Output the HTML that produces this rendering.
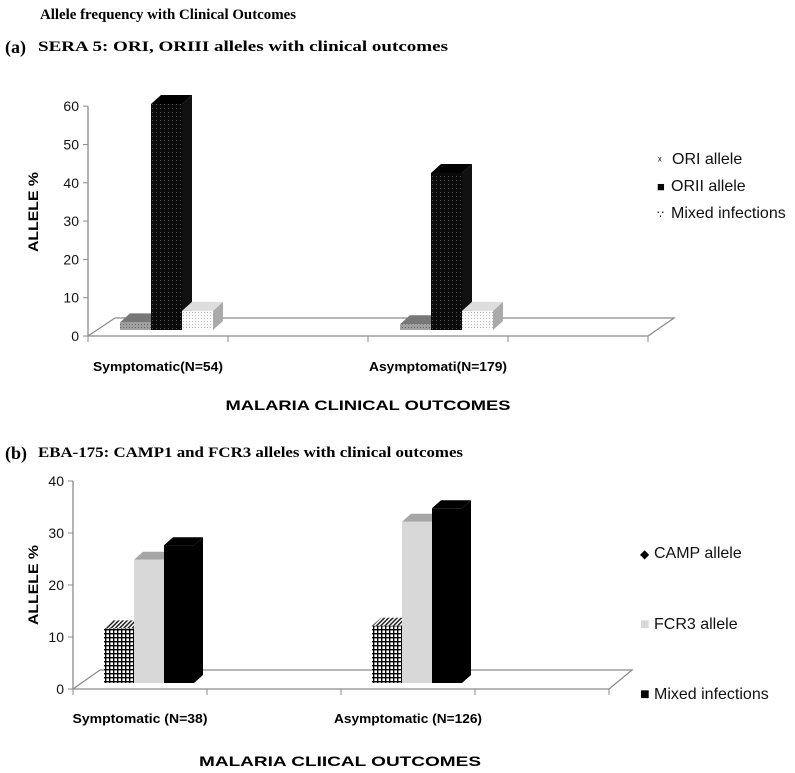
<!DOCTYPE html>
<html><head><meta charset="utf-8"><style>
body{margin:0;background:#fff;}
svg{display:block;font-family:"Liberation Sans",sans-serif;}
.serif{font-family:"Liberation Serif",serif;font-weight:bold;}
</style></head><body>
<svg id="chart" width="795" height="773" viewBox="0 0 795 773">
<defs>
<pattern id="pGrey" width="3" height="3" patternUnits="userSpaceOnUse"><rect width="3" height="3" fill="#a0a0a0"/><rect width="1" height="1" fill="#666"/></pattern>
<pattern id="pBlack" width="4" height="4" patternUnits="userSpaceOnUse"><rect width="4" height="4" fill="#0a0a0a"/><rect width="1" height="1" fill="#555"/></pattern>
<pattern id="pWhite" width="3" height="3" patternUnits="userSpaceOnUse"><rect width="3" height="3" fill="#fafafa"/><rect width="1" height="1" fill="#bbb"/></pattern>
<pattern id="pCheck" width="4" height="4" patternUnits="userSpaceOnUse"><rect width="4" height="4" fill="#fff"/><rect x="0" y="1" width="4" height="1.4" fill="#000"/><rect x="1" y="0" width="1.4" height="4" fill="#000"/></pattern>
<pattern id="pStripe" width="3" height="3" patternUnits="userSpaceOnUse" patternTransform="rotate(45)"><rect width="3" height="3" fill="#fff"/><rect width="1.5" height="3" fill="#222"/></pattern>
</defs>
<text class="serif" x="40" y="19" font-size="15" textLength="256" lengthAdjust="spacingAndGlyphs">Allele frequency with Clinical Outcomes</text>
<text class="serif" x="5" y="53" font-size="18">(a)</text>
<text class="serif" x="38" y="51" font-size="15" textLength="410" lengthAdjust="spacingAndGlyphs">SERA 5: ORI, ORIII alleles with clinical outcomes</text>
<text class="serif" x="5" y="459" font-size="18">(b)</text>
<text class="serif" x="38" y="457" font-size="15" textLength="425" lengthAdjust="spacingAndGlyphs">EBA-175: CAMP1 and FCR3 alleles with clinical outcomes</text>
<g id="ga"></g><g id="gb"></g>
</svg>
<script>
const catsA = ["Symptomatic(N=54)", "Asymptomati(N=179)"];
const oriA = [2, 1.5];
const oriiA = [59, 41];
const mixedA = [5, 5];
const ticksA = [0, 10, 20, 30, 40, 50, 60];
const catsB = ["Symptomatic (N=38)", "Asymptomatic (N=126)"];
const campB = [10.5, 11];
const fcr3B = [23.7, 31];
const mixedB = [26.5, 33.6];
const ticksB = [0, 10, 20, 30, 40];
const NS = "http://www.w3.org/2000/svg";
function mk(parent, tag, attrs, text){
  const e = document.createElementNS(NS, tag);
  for (const k in attrs) e.setAttribute(k, attrs[k]);
  if (text !== undefined) e.textContent = text;
  parent.appendChild(e); return e;
}
function drawChart(g, cfg){
  const y = v => cfg.y0 - v * cfg.pxPer;
  const ax = mk(g, "line", {x1:cfg.x0, y1:y(cfg.ticks[cfg.ticks.length-1]), x2:cfg.x0, y2:cfg.y0, stroke:"#8c8c8c", "stroke-width":1.3});
  
  
  cfg.ticks.forEach(t => {
    mk(g, "line", {x1:cfg.x0-5, y1:y(t), x2:cfg.x0, y2:y(t), stroke:"#8c8c8c"});
    const tl = mk(g, "text", {x:cfg.x0-9, y:y(t)+5, "text-anchor":"end", "font-size":14, fill:"#111"}, String(t));
    
    
  });
  const f = cfg.floor;
  const fl = mk(g, "polygon", {points:`${cfg.x0},${cfg.y0} ${cfg.x0+f.dx},${f.back} ${f.right+f.rdx},${f.back} ${f.right},${cfg.y0}`, fill:"none", stroke:"#8c8c8c", "stroke-width":1.3});
  
  
  const n = cfg.cats.length * 2;
  const step = (f.right - cfg.x0) / n;
  for (let i = 0; i <= n; i++) mk(g, "line", {x1:cfg.x0+i*step, y1:cfg.y0, x2:cfg.x0+i*step, y2:cfg.y0+6, stroke:"#8c8c8c"});
  cfg.cats.forEach((c, ci) => {
    const mid = cfg.x0 + (2*ci+0.5)*step;
    const lbl = mk(g, "text", {x:mid, y:cfg.labelY, "text-anchor":"middle", "font-size":13, "font-weight":"bold", textLength:cfg.labelW[ci], lengthAdjust:"spacingAndGlyphs"}, c);
    
    
    let bx = mid - cfg.offset;
    cfg.series.forEach((s) => {
      const v = s.vals[ci];
      const top = cfg.base - v * cfg.pxPer;
      const d = cfg.depth;
      mk(g, "polygon", {points:`${bx+cfg.bw},${top} ${bx+cfg.bw+d.dx},${top-d.dy} ${bx+cfg.bw+d.dx},${cfg.base-d.dy} ${bx+cfg.bw},${cfg.base}`, fill:s.side});
      mk(g, "polygon", {points:`${bx},${top} ${bx+d.dx},${top-d.dy} ${bx+cfg.bw+d.dx},${top-d.dy} ${bx+cfg.bw},${top}`, fill:s.top});
      const r = mk(g, "rect", {x:bx, y:top, width:cfg.bw, height:cfg.base-top, fill:s.fill});
      
      
      bx += cfg.bw;
    });
  });
  const xt = mk(g, "text", {x:cfg.xTitle[0], y:cfg.xTitle[1], "text-anchor":"middle", "font-size":14, "font-weight":"bold", textLength:cfg.xTitle[2], lengthAdjust:"spacingAndGlyphs"}, cfg.xTitleText);
  
  
  const yt = mk(g, "text", {x:0, y:0, transform:`translate(${cfg.yTitle[0]},${cfg.yTitle[1]}) rotate(-90)`, "text-anchor":"middle", "font-size":14, "font-weight":"bold", textLength:80, lengthAdjust:"spacingAndGlyphs"}, "ALLELE %");
  
  
  cfg.legend.forEach(L => {
    mk(g, "text", {x:L.x, y:L.y, "font-size":L.ms, fill:L.c || "#000"}, L.mark);
    const t = mk(g, "text", {x:L.x+14, y:L.y, "font-size":16, fill:"#111"}, L.text);
    
    
  });
}
drawChart(document.getElementById("ga"), {
  x0:88, y0:336, base:330, pxPer:3.83, ticks:ticksA, cats:catsA,
  floor:{back:318, dx:27, right:648, rdx:26},
  offset:38, bw:31, depth:{dx:10, dy:9}, labelY:371, labelW:[130,138],
  series:[{key:"ori", vals:oriA, fill:"url(#pGrey)", side:"#888", top:"#777"},
          {key:"orii", vals:oriiA, fill:"url(#pBlack)", side:"#111", top:"#000"},
          {key:"mixed", vals:mixedA, fill:"url(#pWhite)", side:"#aaa", top:"#ddd"}],
  xTitle:[368,410,285], xTitleText:"MALARIA CLINICAL OUTCOMES", yTitle:[38,212],
  legend:[{x:658,y:164,mark:"\u02E3",ms:11,text:"ORI allele"},{x:657,y:191,mark:"\u25A0",ms:13,text:"ORII allele"},{x:657,y:218,mark:"\u2235",ms:11,text:"Mixed infections"}]
});
drawChart(document.getElementById("gb"), {
  x0:73, y0:689, base:683, pxPer:5.2, ticks:ticksB, cats:catsB,
  floor:{back:670, dx:27, right:609, rdx:23},
  offset:36, bw:30, depth:{dx:9, dy:8}, labelY:723, labelW:[135,148],
  series:[{key:"camp", vals:campB, fill:"url(#pCheck)", side:"#666", top:"url(#pStripe)"},
          {key:"fcr3", vals:fcr3B, fill:"#d8d8d8", side:"#bbb", top:"#a6a6a6"},
          {key:"mixed", vals:mixedB, fill:"#000", side:"#000", top:"#000"}],
  xTitle:[340,766,282], xTitleText:"MALARIA CLIICAL OUTCOMES", yTitle:[38,585],
  legend:[{x:640,y:558,mark:"\u25C6",ms:12,text:"CAMP allele"},{x:640,y:629,mark:"\u25A0",ms:16,text:"FCR3 allele",c:"#d8d8d8"},{x:640,y:699,mark:"\u25A0",ms:16,text:"Mixed infections"}]
});
</script>
</body></html>
